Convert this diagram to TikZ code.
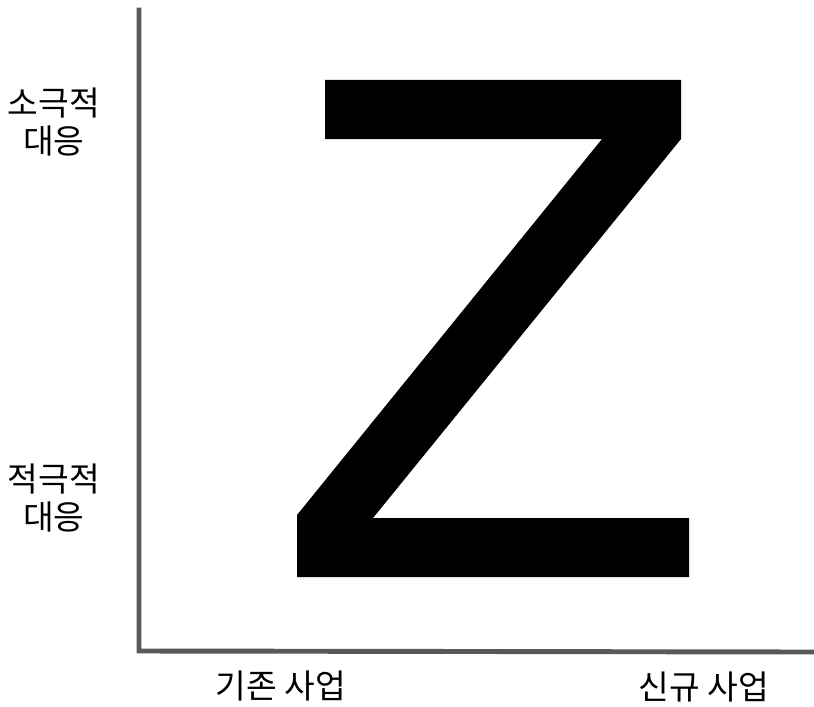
\documentclass[tikz,border=0pt]{standalone}
\usepackage{fontspec}
\newfontfamily\korfont{Noto Sans CJK KR}
\usepackage{tikz}
\usetikzlibrary{positioning,calc}
\definecolor{axisgray}{HTML}{595959}
\tikzset{
    diagramaxis/.style={draw=axisgray, line width=2.8pt, line cap=rect},
    diagramlabel/.style={align=center, inner sep=0pt, font=\korfont\fontsize{19}{21.5}\selectfont},
    diagramzee/.style={fill=black, draw=none}
}

\begin{document}
\begin{tikzpicture}[x=0.02cm, y=-0.02cm]
        \useasboundingbox (0,0) rectangle (814,706);
        % axes
        \coordinate (ytop) at (139,10);
        \coordinate (origin) at (139,651);
        \coordinate (xend) at (814,652);
        \draw[diagramaxis] (ytop) -- (origin) -- (xend);
        % the Z
        \fill[diagramzee] (325,80) -- (681,80) -- (681,139) -- (373,518) -- (689,518)
            -- (689,577) -- (297,577) -- (297,515) -- (602,139) -- (325,139) -- cycle;
        % labels
        \node[diagramlabel] (passive) at (54,122) {소극적\\대응};
        \node[diagramlabel] (active) at (54,498) {적극적\\대응};
        \node[diagramlabel] (existing) at (281,686) {기존 사업};
        \node[diagramlabel] (newbiz) at (704,687) {신규 사업};
    \end{tikzpicture}
\end{document}
